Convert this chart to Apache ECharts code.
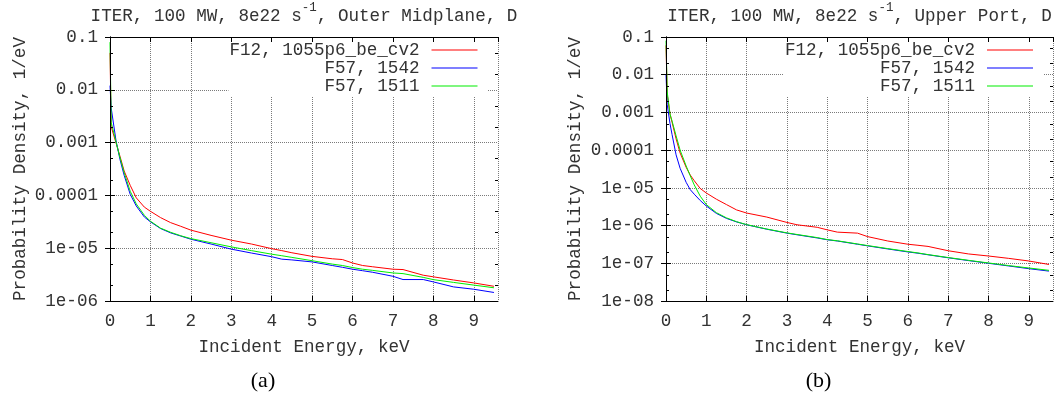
<!DOCTYPE html>
<html>
<head>
<meta charset="utf-8">
<script src="https://cdn.jsdelivr.net/npm/echarts@6/dist/echarts.min.js"></script>
<style>
  html, body { margin: 0; padding: 0; background: #fff; }
  #chart { width: 1062px; height: 398px; }
</style>
</head>
<body>
<div id="chart"></div>
<script>
// Incident-energy spectra of D atoms, probability density (1/eV) vs energy (keV)
const seriesNames = ['F12, 1055p6_be_cv2', 'F57, 1542', 'F57, 1511'];
const seriesColors = ['#ff0000', '#0000ff', '#00ee00'];

// Panel (a): Outer Midplane
const energyA = [0, 0.03, 0.15, 0.25, 0.35, 0.5, 0.65, 0.85, 1, 1.25, 1.5, 1.75, 2, 2.5, 3, 3.5,
  4, 4.25, 4.5, 5, 5.5, 5.75, 6, 6.25, 6.5, 7, 7.25, 7.75, 8, 8.5, 9, 9.5];
const redA = [0.05, 2.0e-3, 9.8e-4, 5.4e-4, 2.9e-4, 1.55e-4, 9.0e-5, 6.0e-5, 5.0e-5, 3.8e-5, 3.05e-5, 2.6e-5,
  2.2e-5, 1.75e-5, 1.42e-5, 1.2e-5, 9.8e-6, 9.0e-6, 8.2e-6, 7.0e-6, 6.3e-6, 6.1e-6, 5.25e-6, 4.7e-6,
  4.45e-6, 4.0e-6, 3.94e-6, 3.08e-6, 2.87e-6, 2.5e-6, 2.2e-6, 1.9e-6];
const blueA = [0.012, 4.5e-3, 1.07e-3, 4.7e-4, 2.4e-4, 1.05e-4, 6.3e-5, 3.9e-5, 3.16e-5, 2.36e-5, 1.95e-5, 1.7e-5,
  1.48e-5, 1.2e-5, 9.6e-6, 8.1e-6, 6.9e-6, 6.2e-6, 6.0e-6, 5.5e-6, 4.7e-6, 4.35e-6, 4.0e-6, 3.75e-6,
  3.5e-6, 2.94e-6, 2.55e-6, 2.55e-6, 2.3e-6, 1.85e-6, 1.67e-6, 1.45e-6];
const greenA = [0.08, 2.4e-3, 1.02e-3, 5.1e-4, 2.7e-4, 1.2e-4, 6.9e-5, 4.2e-5, 3.25e-5, 2.4e-5, 2.0e-5, 1.72e-5,
  1.52e-5, 1.27e-5, 1.06e-5, 9.0e-6, 7.7e-6, 7.2e-6, 6.7e-6, 5.8e-6, 5.0e-6, 4.7e-6, 4.3e-6, 4.0e-6,
  3.8e-6, 3.4e-6, 3.3e-6, 2.8e-6, 2.54e-6, 2.25e-6, 2.0e-6, 1.78e-6];

// Panel (b): Upper Port
const energyB = [0, 0.03, 0.1, 0.15, 0.25, 0.35, 0.5, 0.6, 0.7, 0.85, 1, 1.25, 1.5, 1.75, 2, 2.5, 3, 3.25,
  3.75, 4, 4.25, 4.75, 5, 5.5, 6, 6.25, 6.5, 7, 7.5, 8, 8.5, 9, 9.5];
const redB = [0.06, 3.0e-3, 9.0e-4, 5.5e-4, 2.0e-4, 8.4e-5, 3.5e-5, 2.2e-5, 1.55e-5, 9.6e-6, 7.3e-6, 5.0e-6,
  3.6e-6, 2.6e-6, 2.15e-6, 1.68e-6, 1.21e-6, 1.05e-6, 9.0e-7, 7.7e-7, 6.7e-7, 6.3e-7, 5.1e-7, 3.9e-7,
  3.2e-7, 3.0e-7, 2.8e-7, 2.15e-7, 1.77e-7, 1.56e-7, 1.35e-7, 1.15e-7, 9.3e-8];
const blueB = [0.01, 1.6e-3, 5.0e-4, 2.6e-4, 7.5e-5, 3.3e-5, 1.4e-5, 9.0e-6, 6.8e-6, 4.6e-6, 3.3e-6, 2.1e-6,
  1.55e-6, 1.25e-6, 1.05e-6, 8.0e-7, 6.3e-7, 5.7e-7, 4.7e-7, 4.2e-7, 3.9e-7, 3.2e-7, 2.9e-7, 2.4e-7,
  2.0e-7, 1.85e-7, 1.68e-7, 1.4e-7, 1.18e-7, 1.0e-7, 8.5e-8, 7.2e-8, 6.2e-8];
const greenB = [0.08, 3.5e-3, 9.0e-4, 5.9e-4, 2.4e-4, 1.0e-4, 3.8e-5, 2.1e-5, 1.2e-5, 6.0e-6, 3.6e-6, 2.2e-6,
  1.6e-6, 1.27e-6, 1.06e-6, 8.1e-7, 6.4e-7, 5.8e-7, 4.8e-7, 4.25e-7, 3.95e-7, 3.25e-7, 2.95e-7, 2.45e-7,
  2.05e-7, 1.88e-7, 1.7e-7, 1.42e-7, 1.2e-7, 1.02e-7, 8.7e-8, 7.5e-8, 6.5e-8];

// Axis ranges and tick labels
const X_MAX = 9.6;
const xTickLabels = ['0', '1', '2', '3', '4', '5', '6', '7', '8', '9'];
const yTickLabels = ['1e-08', '1e-07', '1e-06', '1e-05', '0.0001', '0.001', '0.01', '0.1'];
const Y_LABEL_OFFSET = 8;            // yTickLabels[0] is 10^-8
const yRangeA = [1e-6, 0.1];
const yRangeB = [1e-8, 0.1];

const titlesText = ['Outer Midplane', 'Upper Port'];
const captions = ['(a)', '(b)'];

const FONT = 'Liberation Mono';
const FS = 17.6;
const TEXT = '#333';
const GRID_LINE = { color: '#7a7a7a', type: [1, 1], width: 1 };

function xAxes(g) {
  const base = {
    gridIndex: g, type: 'value', min: 0, max: X_MAX, interval: 1,
    axisLine: { show: true, onZero: false, lineStyle: { color: '#000', width: 1 } },
    axisTick: { show: true, inside: true, length: 5, lineStyle: { color: '#000', width: 1 } }
  };
  return [
    Object.assign({}, base, {
      position: 'bottom',
      axisLabel: {
        margin: 11, fontFamily: FONT, fontSize: FS, color: TEXT, showMaxLabel: false,
        formatter: v => Math.abs(v - Math.round(v)) < 1e-9 && xTickLabels[Math.round(v)] !== undefined
          ? xTickLabels[Math.round(v)] : ''
      },
      splitLine: { show: true, lineStyle: GRID_LINE },
      name: 'Incident Energy, keV', nameLocation: 'middle', nameGap: 37,
      nameTextStyle: { fontFamily: FONT, fontSize: FS, color: TEXT }
    }),
    Object.assign({}, base, {
      position: 'top', z: 10,
      axisLabel: { show: false }, splitLine: { show: false }
    })
  ];
}

function yAxes(g, range, nameGap) {
  const base = {
    gridIndex: g, type: 'log', logBase: 10, min: range[0], max: range[1], splitNumber: 10,
    axisLine: { show: true, lineStyle: { color: '#000', width: 1 } },
    axisTick: { show: true, inside: true, length: 5, lineStyle: { color: '#000', width: 1 } }
  };
  return [
    Object.assign({}, base, {
      position: 'left',
      axisLabel: {
        margin: 12, fontFamily: FONT, fontSize: FS, color: TEXT,
        formatter: v => yTickLabels[Math.round(Math.log10(v)) + Y_LABEL_OFFSET] || ''
      },
      splitLine: { show: true, lineStyle: GRID_LINE },
      name: 'Probability Density, 1/eV', nameLocation: 'middle', nameGap: nameGap,
      nameTextStyle: { fontFamily: FONT, fontSize: FS, color: TEXT }
    }),
    Object.assign({}, base, {
      position: 'right', z: 10,
      axisLabel: { show: false }, splitLine: { show: false }
    })
  ];
}

// Minor log ticks at 2 and 5 of every decade, on both vertical edges
function minorTickSeries(xi, yi, range) {
  const lo = Math.round(Math.log10(range[0]));
  const hi = Math.round(Math.log10(range[1]));
  const values = [];
  for (let k = lo; k < hi; k++) {
    values.push([0, 2 * Math.pow(10, k)], [0, 5 * Math.pow(10, k)]);
  }
  return {
    type: 'custom', xAxisIndex: xi, yAxisIndex: yi, silent: true, z: 10, clip: false,
    data: values,
    renderItem: (params, api) => {
      const v = api.value(1);
      const l = api.coord([0, v]);
      const r = api.coord([X_MAX, v]);
      const y = Math.round(l[1]) + 0.5;
      const st = { stroke: '#000', lineWidth: 1 };
      return {
        type: 'group', children: [
          { type: 'line', shape: { x1: l[0], y1: y, x2: l[0] + 3, y2: y }, style: st },
          { type: 'line', shape: { x1: r[0] - 3, y1: y, x2: r[0], y2: y }, style: st }
        ]
      };
    }
  };
}

function lineSeries(i, xi, yi, energy, values) {
  return {
    type: 'line', name: seriesNames[i], xAxisIndex: xi, yAxisIndex: yi,
    data: energy.map((e, k) => [e, values[k]]),
    symbol: 'none', showSymbol: false, animation: false,
    lineStyle: { width: 1, color: seriesColors[i] },
    itemStyle: { color: seriesColors[i] },
    emphasis: { disabled: true }
  };
}

function legend(right) {
  return {
    orient: 'vertical', right: right, top: 37, align: 'right',
    icon: 'rect', itemWidth: 46, itemHeight: 1.2, itemGap: 0,
    padding: [4, 10, 1, 1], backgroundColor: '#fff',
    selectedMode: false,
    textStyle: { fontFamily: FONT, fontSize: FS, color: TEXT, lineHeight: 17.8, padding: [0, 7, 0, 0] },
    data: seriesNames
  };
}

function plotTitle(place, center) {
  return {
    text: '{n|ITER, 100 MW, 8e22 s}{s|-1}{n|, ' + place + ', D}',
    left: center, top: 1, textAlign: 'center', padding: 0,
    textStyle: {
      fontWeight: 'normal', fontFamily: FONT, fontSize: FS, color: TEXT,
      rich: {
        n: { fontFamily: FONT, fontSize: FS, fontWeight: 'normal', color: TEXT, lineHeight: 24, verticalAlign: 'bottom' },
        s: { fontFamily: FONT, fontSize: 12.5, fontWeight: 'normal', color: TEXT, lineHeight: 10, verticalAlign: 'top' }
      }
    }
  };
}

function caption(text, center) {
  return {
    text: text, left: center, top: 370, textAlign: 'center', padding: 0,
    textStyle: { fontFamily: 'Liberation Serif', fontSize: 22, fontWeight: 'normal', color: '#000' }
  };
}

const chart = echarts.init(document.getElementById('chart'), null, { renderer: 'canvas' });
chart.setOption({
  animation: false,
  backgroundColor: '#fff',
  title: [
    plotTitle(titlesText[0], 304), plotTitle(titlesText[1], 859.5),
    caption(captions[0], 263), caption(captions[1], 818.5)
  ],
  grid: [
    { left: 110, top: 37, width: 388, height: 264, containLabel: false },
    { left: 666, top: 37, width: 387, height: 264, containLabel: false }
  ],
  legend: [legend(574.5), legend(19)],
  xAxis: [].concat(xAxes(0), xAxes(1)),
  yAxis: [].concat(yAxes(0, yRangeA, 81), yAxes(1, yRangeB, 82)),
  series: [
    lineSeries(0, 0, 0, energyA, redA),
    lineSeries(1, 0, 0, energyA, blueA),
    lineSeries(2, 0, 0, energyA, greenA),
    lineSeries(0, 2, 2, energyB, redB),
    lineSeries(1, 2, 2, energyB, blueB),
    lineSeries(2, 2, 2, energyB, greenB),
    minorTickSeries(0, 0, yRangeA),
    minorTickSeries(2, 2, yRangeB)
  ]
});
</script>
</body>
</html>
